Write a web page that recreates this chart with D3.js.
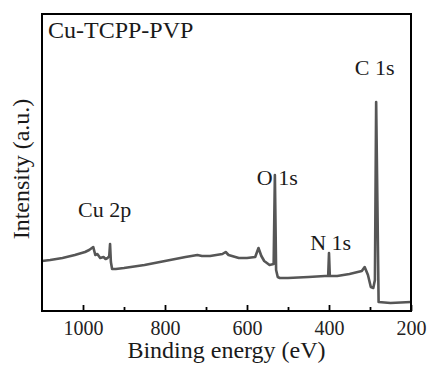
<!DOCTYPE html>
<html>
<head>
<script src="https://cdn.jsdelivr.net/npm/d3@7"></script>
</head>
<body style="margin:0">
<svg width="427" height="367"></svg>
<script>
// binding energy (eV) and intensity (a.u.)
let energy = [1100, 1080, 1050, 1020, 995, 985, 975, 970, 965, 958, 950, 945, 940, 936, 934, 932, 929,
              920, 900, 850, 800, 750, 721, 710, 690, 660, 652, 645, 620, 600, 580, 572, 565, 558, 545,
              535, 532, 529, 525, 520, 500, 450, 410, 402, 400, 398, 380, 350, 320, 313, 305, 298, 292,
              288, 285, 282, 279, 250, 200];
let intensity = [50, 51, 53, 56, 59, 61, 64, 56, 57, 53, 54, 52, 53, 55, 67, 49, 42,
                 42, 43, 46, 50, 54, 56, 55, 55, 57, 59, 56, 53, 53, 54, 63, 55, 50, 46,
                 47, 136, 41, 34, 33, 33, 34, 35, 35, 58, 35, 35, 37, 40, 44, 36, 24, 23,
                 31, 209, 110, 9, 8, 9];
let tickValues = [1000, 800, 600, 400, 200];
let minorTicks = [900, 700, 500, 300];
let peakLabels = ['Cu 2p', 'O 1s', 'N 1s', 'C 1s'];
let peakEnergy = [1012, 576, 446, 337];
let peakHeight = [94, 126, 61, 236];

let fontStack = "'Liberation Serif', Tinos, 'Times New Roman', Times, serif";
let margin = {left: 42, right: 16, top: 14, bottom: 56};
let width = 427, height = 367;
let svg = d3.select('svg');

let x = d3.scaleLinear().domain([1100, 200]).range([margin.left, width - margin.right]);
let y = d3.scaleLinear().domain([0, 297]).range([height - margin.bottom, margin.top]);

let data = energy.map((e, i) => ({e: e, v: intensity[i]}));

let line = d3.line()
             .x(d => x(d.e))
             .y(d => y(d.v));

svg.append('path')
   .datum(data)
   .attr('d', line)
   .attr('fill', 'none')
   .attr('stroke', '#565656')
   .attr('stroke-width', 2.6)
   .attr('stroke-linejoin', 'round');

// ticks point inward
let xAxis = d3.axisBottom(x).tickValues(tickValues).tickSize(-6).tickPadding(10).tickFormat(d3.format('d'));
let gx = svg.append('g')
            .attr('transform', 'translate(0,' + (height - margin.bottom) + ')')
            .call(xAxis);
gx.select('.domain').remove();
gx.selectAll('line').attr('stroke', '#000').attr('stroke-width', 1.8);
gx.selectAll('text')
  .style('font-family', fontStack)
  .style('font-size', '20px')
  .attr('fill', '#222');

let gm = svg.append('g')
            .attr('transform', 'translate(0,' + (height - margin.bottom) + ')')
            .call(d3.axisBottom(x).tickValues(minorTicks).tickSize(-4).tickFormat(''));
gm.select('.domain').remove();
gm.selectAll('line').attr('stroke', '#000').attr('stroke-width', 1.8);

// frame
svg.append('rect')
   .attr('x', margin.left)
   .attr('y', margin.top)
   .attr('width', width - margin.left - margin.right)
   .attr('height', height - margin.top - margin.bottom)
   .attr('fill', 'none')
   .attr('stroke', '#000')
   .attr('stroke-width', 2);

svg.selectAll('.peak')
   .data(peakLabels)
   .enter()
   .append('text')
   .attr('class', 'peak')
   .attr('x', (d, i) => x(peakEnergy[i]))
   .attr('y', (d, i) => y(peakHeight[i]))
   .style('font-family', fontStack)
   .style('font-size', '22px')
   .attr('fill', '#1a1a1a')
   .text(d => d);

svg.append('text')
   .attr('x', 48)
   .attr('y', 38)
   .style('font-family', fontStack)
   .style('font-size', '24px')
   .attr('fill', '#1a1a1a')
   .text('Cu-TCPP-PVP');

svg.append('text')
   .attr('x', (margin.left + width - margin.right) / 2)
   .attr('y', 358)
   .attr('text-anchor', 'middle')
   .style('font-family', fontStack)
   .style('font-size', '24px')
   .attr('fill', '#1a1a1a')
   .text('Binding energy (eV)');

svg.append('text')
   .attr('transform', 'translate(29,169) rotate(-90)')
   .attr('text-anchor', 'middle')
   .style('font-family', fontStack)
   .style('font-size', '24px')
   .attr('fill', '#1a1a1a')
   .text('Intensity (a.u.)');
</script>
</body>
</html>
